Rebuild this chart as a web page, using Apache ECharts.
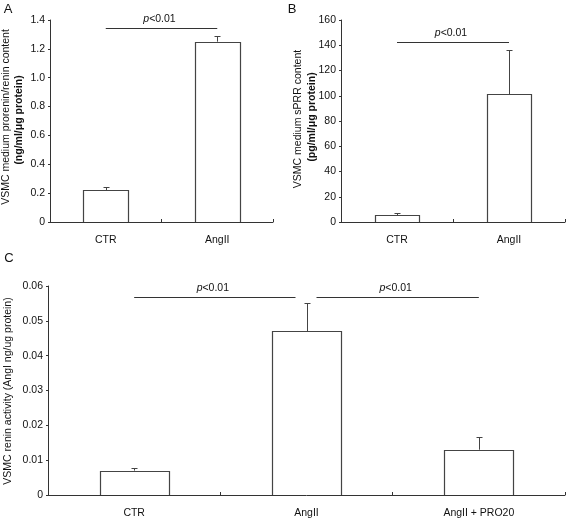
<!DOCTYPE html>
<html>
<head>
<meta charset="utf-8">
<script src="https://cdn.jsdelivr.net/npm/echarts@6/dist/echarts.min.js"></script>
<style>
html,body{margin:0;padding:0;background:#fff;}
#c{width:566px;height:519px;}
</style>
</head>
<body>
<div id="c"></div>
<script>
// ---- Data ----
var catsAB = ['CTR', 'AngII'];
var catsC = ['CTR', 'AngII', 'AngII + PRO20'];

var meanA = [0.22, 1.25];
var upperA = [0.24, 1.29];

var meanB = [5.5, 101];
var upperB = [7, 136];

var meanC = [0.007, 0.047, 0.013];
var upperC = [0.0078, 0.055, 0.0167];

// significance brackets: [fromCategory, toCategory, yValue]
var sigA = [[0, 1, 1.345]];
var sigB = [[0, 1, 142.3]];
var sigC = [[0, 1, 0.0569], [1, 2, 0.0569]];

var ticksA = {min: 0, max: 1.4, interval: 0.2};
var ticksB = {min: 0, max: 160, interval: 20};
var ticksC = {min: 0, max: 0.06, interval: 0.01};

// ---- Styles ----
var FONT = '"Liberation Sans", Arial, sans-serif';
var FS = 10.5;
var AX = '#333';
var BARC = '#444';

function xAxis(gi, cats) {
  return {
    type: 'category', gridIndex: gi, data: cats, z: 5,
    axisLine: {lineStyle: {color: AX, width: 1}},
    axisTick: {show: true, inside: true, length: 3, lineStyle: {color: AX}},
    axisLabel: {color: '#111', fontFamily: FONT, fontSize: FS, margin: 13}
  };
}
function yAxis(gi, t, dec) {
  return {
    type: 'value', gridIndex: gi, min: t.min, max: t.max, interval: t.interval,
    splitLine: {show: false},
    axisLine: {show: true, lineStyle: {color: AX, width: 1}},
    axisTick: {show: true, length: 2, lineStyle: {color: AX}},
    axisLabel: {color: '#111', fontFamily: FONT, fontSize: FS, margin: 5,
      formatter: function (v) { return v === 0 ? '0' : (dec ? v.toFixed(dec) : String(v)); }}
  };
}
// open-bottom bar drawn through the axis scales
function bars(gi, vals) {
  var d = vals.map(function (v, i) { return [i, v]; });
  return {
    type: 'custom', xAxisIndex: gi, yAxisIndex: gi, data: d, animation: false, silent: true,
    encode: {x: 0, y: 1},
    renderItem: function (params, api) {
      var top = api.coord([api.value(0), api.value(1)]);
      var base = api.coord([api.value(0), 0]);
      var w = api.size([1, 0])[0] * 0.4;
      var xl = Math.round(top[0] - w / 2) + 0.5;
      var xr = Math.round(top[0] + w / 2) + 0.5;
      var yt = Math.round(top[1]) + 0.5;
      return {type: 'group', children: [
        {type: 'rect', shape: {x: xl, y: yt, width: xr - xl, height: base[1] - yt}, style: {fill: '#fff'}},
        {type: 'polyline', shape: {points: [[xl, base[1]], [xl, yt], [xr, yt], [xr, base[1]]]},
          style: {stroke: BARC, lineWidth: 1.2, fill: null}}
      ]};
    }
  };
}
function errs(gi, means, uppers) {
  var d = means.map(function (m, i) { return [i, m, uppers[i]]; });
  return {
    type: 'custom', xAxisIndex: gi, yAxisIndex: gi, data: d, animation: false, silent: true,
    encode: {x: 0, y: 2},
    renderItem: function (params, api) {
      var x = api.value(0);
      var p0 = api.coord([x, api.value(1)]);
      var p1 = api.coord([x, api.value(2)]);
      var cx = Math.round(p0[0]) + 0.5;
      var y1 = Math.round(p1[1]) + 0.5;
      var w = 3;
      return {type: 'group', children: [
        {type: 'line', shape: {x1: cx, y1: p0[1], x2: cx, y2: y1}, style: {stroke: BARC, lineWidth: 1}},
        {type: 'line', shape: {x1: cx - w, y1: y1, x2: cx + w, y2: y1}, style: {stroke: BARC, lineWidth: 1}}
      ]};
    }
  };
}
function sig(gi, arr, gap) {
  return {
    type: 'custom', xAxisIndex: gi, yAxisIndex: gi, data: arr, animation: false, silent: true,
    encode: {x: [0, 1], y: 2},
    renderItem: function (params, api) {
      var a = api.coord([api.value(0), api.value(2)]);
      var b = api.coord([api.value(1), api.value(2)]);
      var x1 = a[0], x2 = b[0];
      if (gap) {
        if (params.dataIndex > 0) x1 += gap[0];
        if (params.dataIndex < arr.length - 1) x2 -= gap[1];
      }
      var y = Math.round(a[1]) + 0.5;
      return {type: 'group', children: [
        {type: 'line', shape: {x1: x1, y1: y, x2: x2, y2: y}, style: {stroke: AX, lineWidth: 1}},
        {type: 'text', x: (x1 + x2) / 2 - 2, y: y - 9, style: {
          text: '{i|p}{n|<0.01}', align: 'center', verticalAlign: 'middle',
          rich: {i: {fontStyle: 'italic', fontFamily: FONT, fontSize: FS, fill: '#111'},
                 n: {fontFamily: FONT, fontSize: FS, fill: '#111'}}
        }}
      ]};
    }
  };
}

var chart = echarts.init(document.getElementById('c'), null, {renderer: 'canvas'});
chart.setOption({
  backgroundColor: '#fff',
  animation: false,
  grid: [
    {left: 50, right: 293, top: 20, bottom: 297},
    {left: 341, right: 1, top: 20, bottom: 297},
    {left: 48, right: 1, top: 286, bottom: 23}
  ],
  xAxis: [xAxis(0, catsAB), xAxis(1, catsAB), xAxis(2, catsC)],
  yAxis: [yAxis(0, ticksA, 1), yAxis(1, ticksB, 0), yAxis(2, ticksC, 2)],
  series: [
    bars(0, meanA), errs(0, meanA, upperA), sig(0, sigA),
    bars(1, meanB), errs(1, meanB, upperB), sig(1, sigB),
    bars(2, meanC), errs(2, meanC, upperC), sig(2, sigC, [10, 11])
  ],
  graphic: [
    {type: 'text', x: 8, y: 9, style: {text: 'A', font: '13px ' + FONT, fill: '#111', align: 'center', verticalAlign: 'middle'}},
    {type: 'text', x: 292, y: 9, style: {text: 'B', font: '13px ' + FONT, fill: '#111', align: 'center', verticalAlign: 'middle'}},
    {type: 'text', x: 9, y: 258, style: {text: 'C', font: '13px ' + FONT, fill: '#111', align: 'center', verticalAlign: 'middle'}},
    {type: 'text', x: 6, y: 117, rotation: Math.PI / 2, style: {text: 'VSMC medium prorenin/renin content', font: FS + 'px ' + FONT, fill: '#111', align: 'center', verticalAlign: 'middle'}},
    {type: 'text', x: 19, y: 120, rotation: Math.PI / 2, style: {text: '(ng/ml/μg protein)', font: 'bold ' + FS + 'px ' + FONT, fill: '#111', align: 'center', verticalAlign: 'middle'}},
    {type: 'text', x: 298, y: 119, rotation: Math.PI / 2, style: {text: 'VSMC medium sPRR content', font: FS + 'px ' + FONT, fill: '#111', align: 'center', verticalAlign: 'middle'}},
    {type: 'text', x: 312, y: 117, rotation: Math.PI / 2, style: {text: '(pg/ml/μg protein)', font: 'bold ' + FS + 'px ' + FONT, fill: '#111', align: 'center', verticalAlign: 'middle'}},
    {type: 'text', x: 8, y: 391, rotation: Math.PI / 2, style: {text: 'VSMC renin activity (AngI ng/ug protein)', font: FS + 'px ' + FONT, fill: '#111', align: 'center', verticalAlign: 'middle'}}
  ]
});
</script>
</body>
</html>
